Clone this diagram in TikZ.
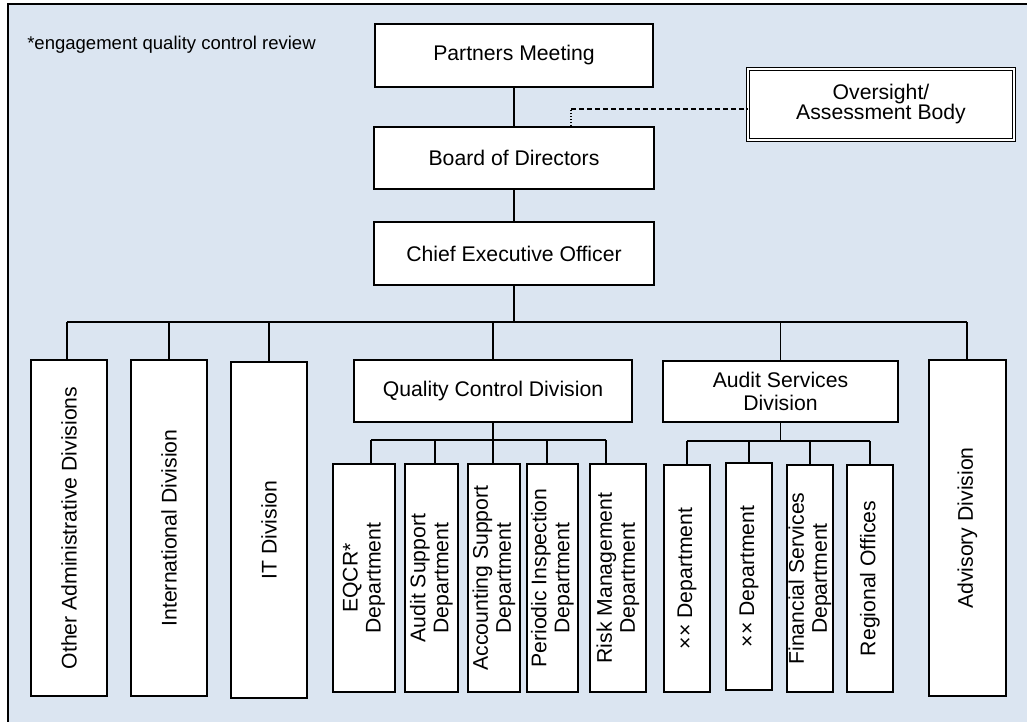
\documentclass[tikz,border=0pt]{standalone}
\usepackage{fontspec}
\setmainfont{Liberation Sans}
\newlength{\pxu}
\setlength{\pxu}{0.75pt}
\definecolor{bgblue}{HTML}{DBE5F1}
\begin{document}
\begin{tikzpicture}[x=0.75pt,y=-0.75pt,
  box/.style={draw=black,fill=white,line width=1.5pt,inner sep=0pt,align=center,
    font=\fontsize{15.9pt}{17.25pt}\selectfont},
  vbox/.style={box,rotate=90},
  conn/.style={draw=black,line width=1.2pt},
  note/.style={inner sep=0pt,anchor=west,font=\fontsize{13.9pt}{16pt}\selectfont}]
\useasboundingbox (0,0) rectangle (1027,721);
\clip (0,0) rectangle (1027,721);
\draw[fill=bgblue,line width=1.5pt] (8,4) rectangle (1060,760);

\node[note] (nt) at (27,45) {*engagement quality control review};

\node[box,minimum width=278\pxu,minimum height=63\pxu] (pm) at (514,55.5) {Partners Meeting};
\node[box,minimum width=280\pxu,minimum height=62\pxu] (bod) at (514,158) {Board of Directors};
\node[box,minimum width=280\pxu,minimum height=63\pxu] (ceo) at (514,253.5) {Chief Executive Officer};
\node[box,line width=0.8pt,double,double distance=1.6pt,minimum width=266\pxu,minimum height=71\pxu,
  font=\fontsize{15.9pt}{15pt}\selectfont] (ov) at (881,104.5) {Oversight/\\Assessment Body};

\node[vbox,minimum width=336\pxu,minimum height=76\pxu] (oad) at (69,528) {Other Administrative Divisions};
\node[vbox,minimum width=336\pxu,minimum height=76\pxu] (intl) at (169,528) {International Division};
\node[vbox,minimum width=336\pxu,minimum height=76\pxu] (itd) at (269,530) {IT Division};
\node[vbox,minimum width=336\pxu,minimum height=77\pxu] (adv) at (967.5,528) {Advisory Division};

\node[box,minimum width=278\pxu,minimum height=62\pxu] (qcd) at (493,391) {Quality Control Division};
\node[box,minimum width=235\pxu,minimum height=61\pxu] (asd) at (780.5,391.5) {Audit Services\\Division};

\node[vbox,minimum width=228\pxu,minimum height=62\pxu] (eqcr) at (364,578) {EQCR*\\Department};
\node[vbox,minimum width=228\pxu,minimum height=53\pxu] (aud) at (431.5,578) {Audit Support\\Department};
\node[vbox,minimum width=228\pxu,minimum height=52\pxu] (acc) at (494,578) {Accounting Support\\Department};
\node[vbox,minimum width=228\pxu,minimum height=51\pxu] (per) at (552.5,578) {Periodic Inspection\\Department};
\node[vbox,minimum width=228\pxu,minimum height=56\pxu] (risk) at (618,578) {Risk Management\\Department};

\node[vbox,minimum width=227\pxu,minimum height=46\pxu] (xxa) at (687,578.5) {×× Department};
\node[vbox,minimum width=227\pxu,minimum height=46\pxu] (xxb) at (749,576.5) {×× Department};
\node[vbox,minimum width=227\pxu,minimum height=46\pxu] (fin) at (810,578.5) {Financial Services\\Department};
\node[vbox,minimum width=227\pxu,minimum height=46\pxu] (reg) at (870,578.5) {Regional Offices};

% top chain
\draw[conn] (pm.south) -- (bod.north);
\draw[conn] (bod.south) -- (ceo.north);
\coordinate (dk) at (571,109);
\draw[black,line width=1.1pt,dash pattern=on 0.9pt off 1.3pt] (bod.north -| dk) -- (dk);
\draw[black,line width=1.1pt,dash pattern=on 3.75pt off 2.25pt] (dk) -- (dk -| ov.west);

% main bar
\coordinate (barL) at (67,322);
\coordinate (barR) at (967,322);
\draw[conn] (ceo.south) -- (ceo.south |- barL);
\draw[conn] (barL) -- (barR);
\draw[conn] (barL) -- (barL |- oad.east);
\draw[conn] (intl.east |- barL) -- (intl.east);
\draw[conn] (itd.east |- barL) -- (itd.east);
\draw[conn] (qcd.north |- barL) -- (qcd.north);
\draw[conn] (asd.north |- barL) -- (asd.north);
\draw[conn] (barR) -- (barR |- adv.east);

% quality control sub-tree
\coordinate (qa) at (371,440);
\coordinate (qb) at (435,440);
\coordinate (qd) at (547,440);
\coordinate (qe) at (606,440);
\draw[conn] (qcd.south) -- (qcd.south |- acc.east);
\draw[conn] (qa) -- (qe);
\draw[conn] (qa) -- (qa |- eqcr.east);
\draw[conn] (qb) -- (qb |- aud.east);
\draw[conn] (qd) -- (qd |- per.east);
\draw[conn] (qe) -- (qe |- risk.east);

% audit services sub-tree
\coordinate (ab) at (778,441);
\draw[conn] (asd.south) -- (asd.south |- ab);
\draw[conn] (xxa.east |- ab) -- (reg.east |- ab);
\draw[conn] (xxa.east |- ab) -- (xxa.east);
\draw[conn] (xxb.east |- ab) -- (xxb.east);
\draw[conn] (fin.east |- ab) -- (fin.east);
\draw[conn] (reg.east |- ab) -- (reg.east);
\end{tikzpicture}
\end{document}
